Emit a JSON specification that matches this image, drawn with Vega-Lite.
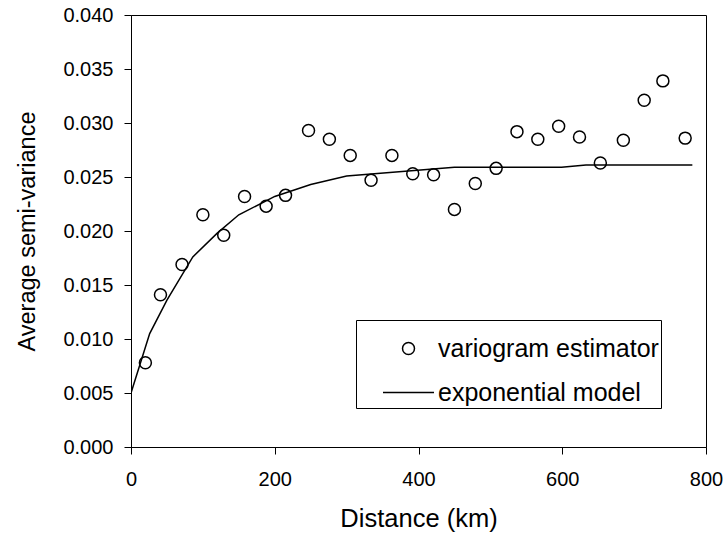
{
  "$schema": "https://vega.github.io/schema/vega-lite/v6.json",
  "autosize": "none",
  "width": 575,
  "height": 432,
  "padding": {"left": 131, "top": 15, "right": 19, "bottom": 86},
  "background": "white",
  "config": {
    "font": "Liberation Sans",
    "view": {"stroke": "black", "strokeWidth": 1},
    "axis": {
      "domainColor": "black",
      "tickColor": "black",
      "tickSize": 7,
      "labelColor": "black",
      "labelFont": "Liberation Sans",
      "labelFontSize": 20,
      "titleFont": "Liberation Sans",
      "titleFontWeight": "normal",
      "titleColor": "black",
      "grid": false
    },
    "legend": {
      "labelFont": "Liberation Sans",
      "labelFontSize": 25,
      "labelColor": "black",
      "labelLimit": 0,
      "strokeWidth": 1
    }
  },
  "datasets": {
    "obs": [
      {"distance": 20, "gamma": 0.0078, "series": "variogram estimator"},
      {"distance": 41, "gamma": 0.0141, "series": "variogram estimator"},
      {"distance": 71, "gamma": 0.0169, "series": "variogram estimator"},
      {"distance": 100, "gamma": 0.0215, "series": "variogram estimator"},
      {"distance": 129, "gamma": 0.0196, "series": "variogram estimator"},
      {"distance": 158, "gamma": 0.0232, "series": "variogram estimator"},
      {"distance": 188, "gamma": 0.0223, "series": "variogram estimator"},
      {"distance": 215, "gamma": 0.0233, "series": "variogram estimator"},
      {"distance": 247, "gamma": 0.0293, "series": "variogram estimator"},
      {"distance": 276, "gamma": 0.0285, "series": "variogram estimator"},
      {"distance": 305, "gamma": 0.0270, "series": "variogram estimator"},
      {"distance": 334, "gamma": 0.0247, "series": "variogram estimator"},
      {"distance": 363, "gamma": 0.0270, "series": "variogram estimator"},
      {"distance": 392, "gamma": 0.0253, "series": "variogram estimator"},
      {"distance": 421, "gamma": 0.0252, "series": "variogram estimator"},
      {"distance": 450, "gamma": 0.0220, "series": "variogram estimator"},
      {"distance": 479, "gamma": 0.0244, "series": "variogram estimator"},
      {"distance": 508, "gamma": 0.0258, "series": "variogram estimator"},
      {"distance": 537, "gamma": 0.0292, "series": "variogram estimator"},
      {"distance": 566, "gamma": 0.0285, "series": "variogram estimator"},
      {"distance": 595, "gamma": 0.0297, "series": "variogram estimator"},
      {"distance": 624, "gamma": 0.0287, "series": "variogram estimator"},
      {"distance": 653, "gamma": 0.0263, "series": "variogram estimator"},
      {"distance": 685, "gamma": 0.0284, "series": "variogram estimator"},
      {"distance": 714, "gamma": 0.0321, "series": "variogram estimator"},
      {"distance": 740, "gamma": 0.0339, "series": "variogram estimator"},
      {"distance": 771, "gamma": 0.0286, "series": "variogram estimator"}
    ],
    "model": [
      {"distance": 0, "gamma": 0.0050},
      {"distance": 26, "gamma": 0.0105},
      {"distance": 50, "gamma": 0.0136},
      {"distance": 86, "gamma": 0.0176},
      {"distance": 120, "gamma": 0.0198},
      {"distance": 150, "gamma": 0.0215},
      {"distance": 200, "gamma": 0.0232},
      {"distance": 250, "gamma": 0.0243},
      {"distance": 300, "gamma": 0.0251},
      {"distance": 450, "gamma": 0.0259},
      {"distance": 599, "gamma": 0.0259},
      {"distance": 633, "gamma": 0.0261},
      {"distance": 781, "gamma": 0.0261}
    ]
  },
  "encoding": {
    "x": {
      "field": "distance", "type": "quantitative",
      "scale": {"domain": [0, 800], "nice": false, "zero": false},
      "axis": {"values": [0, 200, 400, 600, 800], "title": "Distance (km)", "titleFontSize": 25.5, "labelPadding": 15, "titlePadding": 17, "labelFlush": false}
    },
    "y": {
      "field": "gamma", "type": "quantitative",
      "scale": {"domain": [0, 0.04], "nice": false, "zero": false},
      "axis": {"values": [0, 0.005, 0.01, 0.015, 0.02, 0.025, 0.03, 0.035, 0.04], "format": ".3f", "title": "Average semi-variance", "titleFontSize": 23.5, "labelPadding": 11, "titlePadding": 23, "labelFlush": false}
    }
  },
  "layer": [
    {
      "data": {"name": "model"},
      "mark": {"type": "line", "color": "black", "strokeWidth": 1.5, "clip": true},
      "encoding": {}
    },
    {
      "data": {"name": "obs"},
      "mark": {"type": "point", "filled": false, "stroke": "black", "strokeWidth": 1.5, "size": 2601, "opacity": 1},
      "encoding": {
        "shape": {
          "field": "series", "type": "nominal",
          "scale": {
            "domain": ["variogram estimator", "exponential model"],
            "range": ["M-0.235,0A0.235,0.235 0 1,0 0.235,0A0.235,0.235 0 1,0 -0.235,0Z", "M-1,0H1"]
          },
          "legend": {
            "title": null,
            "orient": "none",
            "legendX": 225,
            "legendY": 305,
            "symbolSize": 2601,
            "symbolStrokeColor": "black",
            "symbolStrokeWidth": 1.5,
            "symbolFillColor": "transparent",
            "symbolOpacity": 1,
            "symbolOffset": 24,
            "labelOffset": 3,
            "rowPadding": 4,
            "padding": 2,
            "strokeColor": "black",
            "fillColor": "white"
          }
        }
      }
    }
  ]
}
